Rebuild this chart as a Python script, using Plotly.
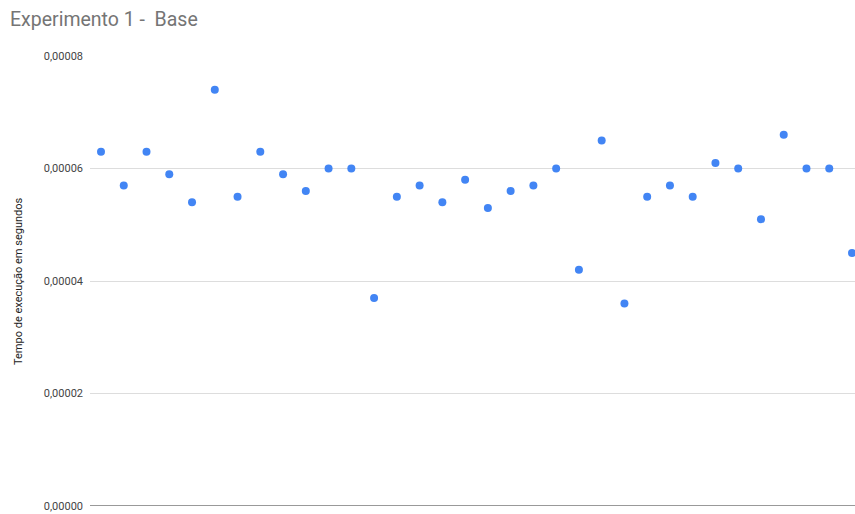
import plotly.graph_objects as go

run_index = list(range(1, 35))
tempo = [6.3e-5, 5.7e-5, 6.3e-5, 5.9e-5, 5.4e-5, 7.4e-5, 5.5e-5, 6.3e-5, 5.9e-5, 5.6e-5,
         6.0e-5, 6.0e-5, 3.7e-5, 5.5e-5, 5.7e-5, 5.4e-5, 5.8e-5, 5.3e-5, 5.6e-5, 5.7e-5,
         6.0e-5, 4.2e-5, 6.5e-5, 3.6e-5, 5.5e-5, 5.7e-5, 5.5e-5, 6.1e-5, 6.0e-5, 5.1e-5,
         6.6e-5, 6.0e-5, 6.0e-5, 4.5e-5]
y_ticks = [0, 2e-5, 4e-5, 6e-5, 8e-5]

W, H = 855, 514
L, R, T, B = 90, 0, 56, 8

fig = go.Figure()
fig.add_trace(go.Scatter(
    x=run_index, y=tempo, mode="markers",
    marker=dict(color="#4285F4", size=8, line=dict(width=0)),
    showlegend=False, hoverinfo="y",
))

fig.update_layout(
    width=W, height=H,
    margin=dict(l=L, r=R, t=T, b=B),
    paper_bgcolor="white", plot_bgcolor="white",
    separators=",.",
    font=dict(family="Roboto, Arial, sans-serif", color="#444444", size=11),
    title=dict(text="Experimento 1 -  Base", xref="container", yref="container",
               x=10 / W, xanchor="left", y=1 - 19 / H, yanchor="middle",
               font=dict(family="Roboto, Arial, sans-serif", size=19.5, color="#757575")),
    xaxis=dict(range=[1 - 11 / 22.758, 34 + 3 / 22.758], showgrid=False, showticklabels=False,
               zeroline=False, showline=False, ticks=""),
    yaxis=dict(range=[0, 8e-5], tickvals=y_ticks, tickformat=".5f",
               showgrid=True, gridcolor="#dddddd", gridwidth=1,
               zeroline=False, showline=False, ticks="",
               ticklabelstandoff=6,
               tickfont=dict(size=11, color="#444444")),
    shapes=[dict(type="line", xref="paper", yref="y", x0=0, x1=1, y0=0, y1=0,
                 line=dict(color="#333333", width=1))],
    annotations=[dict(text="Tempo de execução em segundos", textangle=-90,
                      xref="paper", yref="paper", x=(18 - L) / (W - L - R), y=0.5,
                      xanchor="center", yanchor="middle", showarrow=False,
                      font=dict(size=11, color="#222222"))],
)

fig.write_html("out.html")
